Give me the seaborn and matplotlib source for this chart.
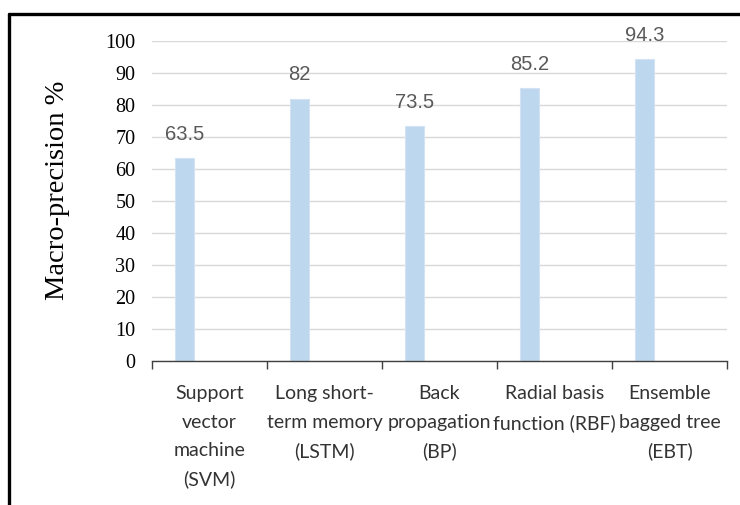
import matplotlib
matplotlib.use("Agg")
import matplotlib.pyplot as plt
from matplotlib.lines import Line2D
from matplotlib.ticker import FixedLocator, MultipleLocator
import seaborn as sns
import pandas as pd

# Data
categories = [
    "Support\nvector\nmachine\n(SVM)",
    "Long short-\nterm memory\n(LSTM)",
    "Back\npropagation\n(BP)",
    "Radial basis\nfunction (RBF)",
    "Ensemble\nbagged tree\n(EBT)",
]
precision = [63.5, 82, 73.5, 85.2, 94.3]
value_labels = ["63.5", "82", "73.5", "85.2", "94.3"]
y_label = "Macro-precision %"

df = pd.DataFrame({"model": categories, "precision": precision})

sns.set_theme(style="white")
plt.rcParams["font.family"] = ["DejaVu Sans"]

W, H = 740, 505
fig = plt.figure(figsize=(W / 100, H / 100), dpi=100)
ax = fig.add_axes([152 / W, 1 - 361 / H, (727 - 152) / W, (361 - 41) / H])

bar_color = "#bdd7ee"
sns.barplot(data=df, x="model", y="precision", color=bar_color, width=0.165,
            saturation=1, edgecolor="#d3e3f3", linewidth=0.8, ax=ax, zorder=3)

# bars sit left of the category centre
shift = -0.217
for p in ax.patches:
    p.set_x(p.get_x() + shift)

ax.set_xlim(-0.5, len(categories) - 0.5)
ax.set_ylim(0, 100)
ax.yaxis.set_major_locator(MultipleLocator(10))
ax.grid(axis="y", color="#d9d9d9", linewidth=1.0, zorder=0)
ax.grid(axis="x", visible=False)

for s in ["left", "right", "top"]:
    ax.spines[s].set_visible(False)
ax.spines["bottom"].set_color("#404040")
ax.spines["bottom"].set_linewidth(1.0)
ax.spines["bottom"].set_zorder(4)

# value labels above the bars
for p, v, txt in zip(ax.patches, precision, value_labels):
    cx = p.get_x() + p.get_width() / 2
    ax.annotate(txt, (cx, v), xytext=(0, 17), textcoords="offset points",
                ha="center", va="center", fontsize=14.5, color="#595959",
                family=["Liberation Sans"], annotation_clip=False)

# ticks: labels at category centres, marks at category boundaries
ax.tick_params(axis="x", which="major", length=0, pad=17.5)
ax.xaxis.set_minor_locator(FixedLocator([i - 0.5 for i in range(len(categories) + 1)]))
ax.tick_params(axis="x", which="minor", length=6, width=1.0, color="#404040",
               direction="out", bottom=True)
for lab in ax.get_xticklabels():
    lab.set_fontfamily(["Lato", "DejaVu Sans"])
    lab.set_fontsize(14)
    lab.set_color("#333333")
    lab.set_linespacing(1.8)
    lab.set_verticalalignment("top")

ax.tick_params(axis="y", length=0, pad=12)
for lab in ax.get_yticklabels():
    lab.set_fontfamily(["Liberation Serif"])
    lab.set_fontsize(14.5)
    lab.set_color("#000000")

ax.set_xlabel("")
ax.set_ylabel("")
fig.text(58 / W, 1 - 190 / H, y_label, rotation=90, ha="center", va="center",
         fontsize=20.5, family=["Liberation Serif"], color="#000000")

# outer frame (left and top edges)
fig.add_artist(Line2D([9 / W, 9 / W], [0, 1 - 13.5 / H], color="black",
                      linewidth=2.4, transform=fig.transFigure))
fig.add_artist(Line2D([9 / W, 1], [1 - 13.5 / H, 1 - 13.5 / H], color="black",
                      linewidth=2.4, transform=fig.transFigure))

fig.savefig("out.png", dpi=100, facecolor="white")
